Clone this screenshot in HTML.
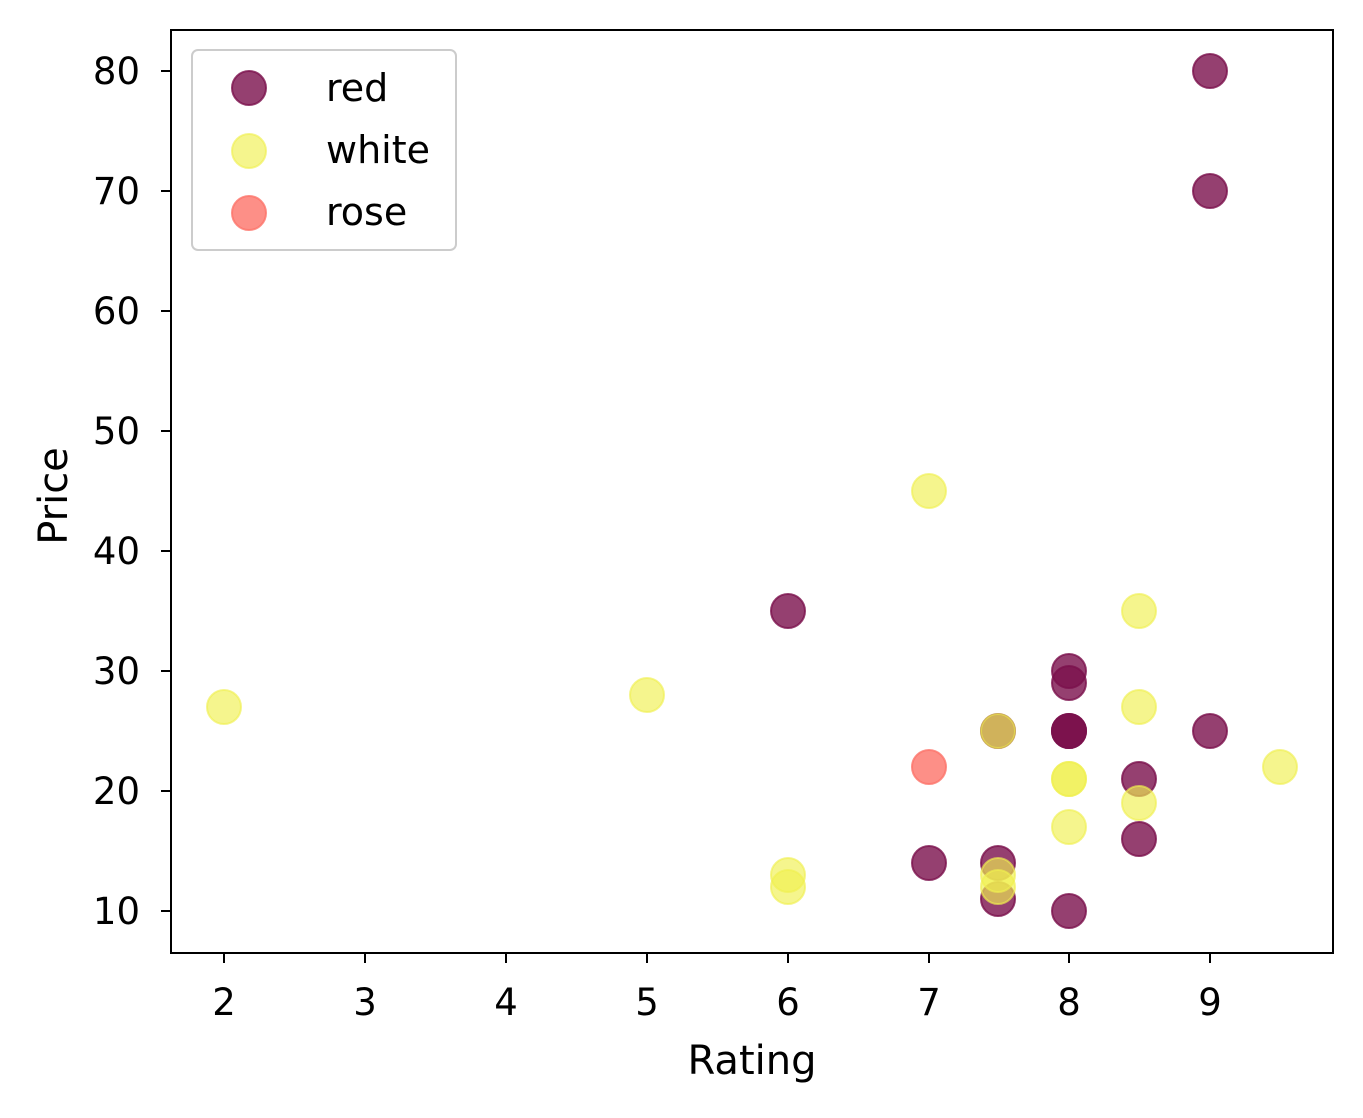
<!DOCTYPE html>
<html><head><meta charset="utf-8"><style>
body{margin:0;background:#fff;}
text{font-family:"DejaVu Sans","Liberation Sans",sans-serif;fill:#000;}
</style></head><body>
<svg width="1363" height="1113" xmlns="http://www.w3.org/2000/svg">
<rect width="1363" height="1113" fill="#fff"/>
<g id="pts">
<g fill="rgb(122,16,76)" fill-opacity="0.8" stroke="rgb(122,16,76)" stroke-opacity="0.8" stroke-width="2">
<circle cx="1210" cy="71" r="17"/>
<circle cx="1210" cy="191" r="17"/>
<circle cx="788" cy="611" r="17"/>
<circle cx="1069" cy="671" r="17"/>
<circle cx="1069" cy="683" r="17"/>
<circle cx="1069" cy="731" r="17"/>
<circle cx="1069" cy="731" r="17"/>
<circle cx="1069" cy="731" r="17"/>
<circle cx="1210" cy="731" r="17"/>
<circle cx="1139" cy="779" r="17"/>
<circle cx="1139" cy="839" r="17"/>
<circle cx="929" cy="863" r="17"/>
<circle cx="998" cy="863" r="17"/>
<circle cx="998" cy="899" r="17"/>
<circle cx="1069" cy="911" r="17"/>
<circle cx="998" cy="731" r="17"/>
</g>
<g fill="rgb(240,240,80)" fill-opacity="0.65" stroke="rgb(240,240,80)" stroke-opacity="0.65" stroke-width="2">
<circle cx="929" cy="491" r="17"/>
<circle cx="1139" cy="611" r="17"/>
<circle cx="224" cy="707" r="17"/>
<circle cx="647" cy="695" r="17"/>
<circle cx="1139" cy="707" r="17"/>
<circle cx="998" cy="731" r="17"/>
<circle cx="1280" cy="767" r="17"/>
<circle cx="1069" cy="779" r="17"/>
<circle cx="1069" cy="779" r="17"/>
<circle cx="1139" cy="803" r="17"/>
<circle cx="1069" cy="827" r="17"/>
<circle cx="788" cy="875" r="17"/>
<circle cx="788" cy="887" r="17"/>
<circle cx="998" cy="875" r="17"/>
<circle cx="998" cy="887" r="17"/>
</g>
<g fill="rgb(252,115,105)" fill-opacity="0.8" stroke="rgb(252,115,105)" stroke-opacity="0.8" stroke-width="2">
<circle cx="929" cy="767" r="17"/>
</g>
</g>
<rect x="171" y="30" width="1162" height="923" fill="none" stroke="#000" stroke-width="2"/>
<g stroke="#000" stroke-width="2">
<line x1="224" y1="953" x2="224" y2="963"/><line x1="365" y1="953" x2="365" y2="963"/>
<line x1="506" y1="953" x2="506" y2="963"/><line x1="647" y1="953" x2="647" y2="963"/>
<line x1="788" y1="953" x2="788" y2="963"/><line x1="929" y1="953" x2="929" y2="963"/>
<line x1="1069" y1="953" x2="1069" y2="963"/><line x1="1210" y1="953" x2="1210" y2="963"/>
<line x1="161" y1="71" x2="171" y2="71"/><line x1="161" y1="191" x2="171" y2="191"/>
<line x1="161" y1="311" x2="171" y2="311"/><line x1="161" y1="431" x2="171" y2="431"/>
<line x1="161" y1="551" x2="171" y2="551"/><line x1="161" y1="671" x2="171" y2="671"/>
<line x1="161" y1="791" x2="171" y2="791"/><line x1="161" y1="911" x2="171" y2="911"/>
</g>
<g font-size="37" text-anchor="middle">
<text x="224" y="1015">2</text><text x="365" y="1015">3</text><text x="506" y="1015">4</text>
<text x="647" y="1015">5</text><text x="788" y="1015">6</text><text x="929" y="1015">7</text>
<text x="1069" y="1015">8</text><text x="1210" y="1015">9</text>
</g>
<g font-size="37" text-anchor="end">
<text x="140" y="84">80</text><text x="140" y="204">70</text><text x="140" y="324">60</text>
<text x="140" y="444">50</text><text x="140" y="564">40</text><text x="140" y="684">30</text>
<text x="140" y="804">20</text><text x="140" y="924">10</text>
</g>
<text x="752" y="1074" font-size="40" text-anchor="middle">Rating</text>
<text x="0" y="0" font-size="40" text-anchor="middle" transform="translate(67,496) rotate(-90)">Price</text>
<rect x="192" y="50" width="264" height="200" rx="6" fill="#fff" fill-opacity="0.8" stroke="#ccc" stroke-width="2"/>
<circle cx="249" cy="88" r="17" fill="rgb(122,16,76)" fill-opacity="0.8" stroke="rgb(122,16,76)" stroke-opacity="0.8" stroke-width="2"/>
<circle cx="249" cy="151" r="17" fill="rgb(240,240,80)" fill-opacity="0.65" stroke="rgb(240,240,80)" stroke-opacity="0.65" stroke-width="2"/>
<circle cx="249" cy="213" r="17" fill="rgb(252,115,105)" fill-opacity="0.8" stroke="rgb(252,115,105)" stroke-opacity="0.8" stroke-width="2"/>
<g font-size="38"><text x="326" y="101">red</text><text x="326" y="163">white</text><text x="326" y="225">rose</text></g>
</svg>
</body></html>
